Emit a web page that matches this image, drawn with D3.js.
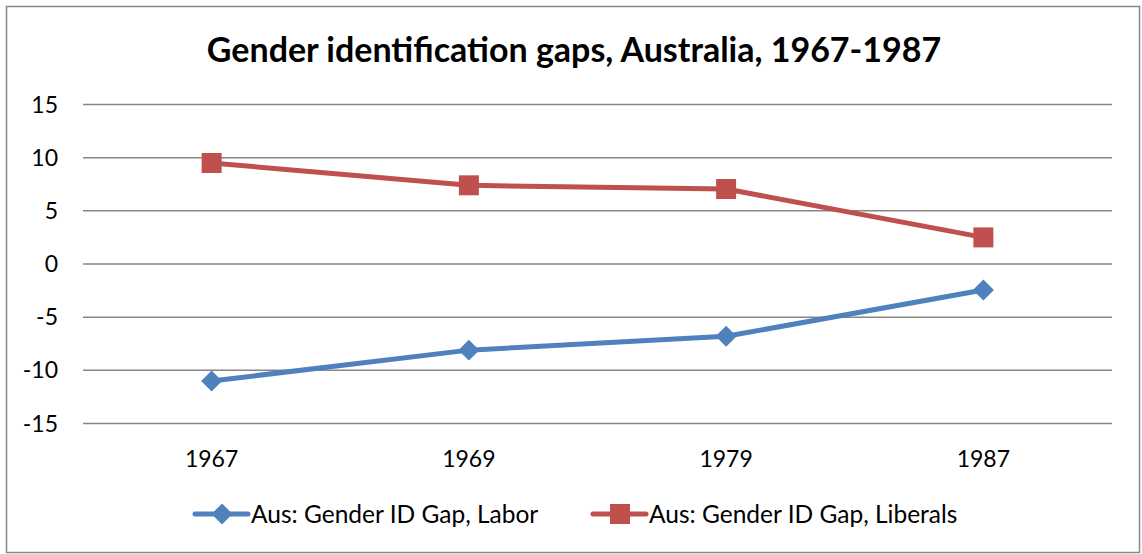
<!DOCTYPE html>
<html>
<head>
<meta charset="utf-8">
<script src="https://cdn.jsdelivr.net/npm/d3@7"></script>
<style>
  body { margin: 0; background: #fff; }
  text { font-family: Lato, "Open Sans", sans-serif; fill: #000; }
</style>
</head>
<body>
<div id="chart"></div>
<script>
  // chart data
  const years = ['1967', '1969', '1979', '1987'];
  const labor = [-11, -8.1, -6.8, -2.45];
  const liberals = [9.5, 7.4, 7.05, 2.5];
  const yTicks = [-15, -10, -5, 0, 5, 10, 15];
  const seriesNames = ['Aus: Gender ID Gap, Labor', 'Aus: Gender ID Gap, Liberals'];

  const width = 1142, height = 554;
  const blue = '#4f81bd', red = '#c0504d';

  const svg = d3.select('#chart').append('svg')
    .attr('width', width)
    .attr('height', height);

  // outer frame
  svg.append('rect')
    .attr('x', 6.5).attr('y', 6.5)
    .attr('width', 1133).attr('height', 546)
    .attr('fill', '#fff')
    .attr('stroke', '#898989')
    .attr('stroke-width', 1.5);

  svg.append('text')
    .attr('x', 574).attr('y', 62)
    .attr('text-anchor', 'middle')
    .style('font-size', '34px')
    .style('font-weight', 'bold')
    .text('Gender identification gaps, Australia, 1967-1987');

  const x = d3.scalePoint().domain(years).range([83, 1112]).padding(0.5);
  const y = d3.scaleLinear().domain([-15, 15]).range([423.5, 104.5]);

  // gridlines
  svg.append('g')
    .selectAll('line')
    .data(yTicks)
    .join('line')
    .attr('x1', 83).attr('x2', 1112)
    .attr('y1', d => y(d)).attr('y2', d => y(d))
    .attr('stroke', '#868686')
    .attr('stroke-width', 1.5);

  // y labels
  svg.append('g')
    .selectAll('text')
    .data(yTicks)
    .join('text')
    .attr('x', 58)
    .attr('y', d => y(d))
    .attr('dy', '0.35em')
    .attr('text-anchor', 'end')
    .style('font-size', '23px')
    .text(d => d);

  // x labels
  svg.append('g')
    .selectAll('text')
    .data(years)
    .join('text')
    .attr('x', d => x(d))
    .attr('y', 467)
    .attr('text-anchor', 'middle')
    .style('font-size', '23px')
    .text(d => d);

  const line = d3.line()
    .x((d, i) => x(years[i]))
    .y(d => y(d));

  function drawSeries(values, color, shape) {
    svg.append('path')
      .datum(values)
      .attr('fill', 'none')
      .attr('stroke', color)
      .attr('stroke-width', 5)
      .attr('stroke-linejoin', 'round')
      .attr('d', line);

    svg.append('g')
      .selectAll('path')
      .data(values)
      .join('path')
      .attr('transform', (d, i) => `translate(${x(years[i])},${y(d)})`)
      .attr('d', shape)
      .attr('fill', color);
  }

  const diamond = d3.symbol().type(d3.symbolDiamond2).size(280)();
  const square = 'M-10,-10H10V10H-10Z';

  drawSeries(labor, blue, diamond);
  drawSeries(liberals, red, square);

  // legend
  const legend = [
    { name: seriesNames[0], color: blue, shape: diamond, x: 195 },
    { name: seriesNames[1], color: red, shape: square, x: 593 }
  ];
  const lg = svg.append('g').selectAll('g')
    .data(legend)
    .join('g')
    .attr('transform', d => `translate(${d.x},514)`);
  lg.append('line')
    .attr('x1', 0).attr('x2', 53)
    .attr('stroke', d => d.color)
    .attr('stroke-width', 5)
    .attr('stroke-linecap', 'round');
  lg.append('path')
    .attr('transform', 'translate(27,0)')
    .attr('d', d => d.shape)
    .attr('fill', d => d.color);
  lg.append('text')
    .attr('x', 56)
    .attr('dy', '0.35em')
    .style('font-size', '24.5px')
    .text(d => d.name);
</script>
</body>
</html>
